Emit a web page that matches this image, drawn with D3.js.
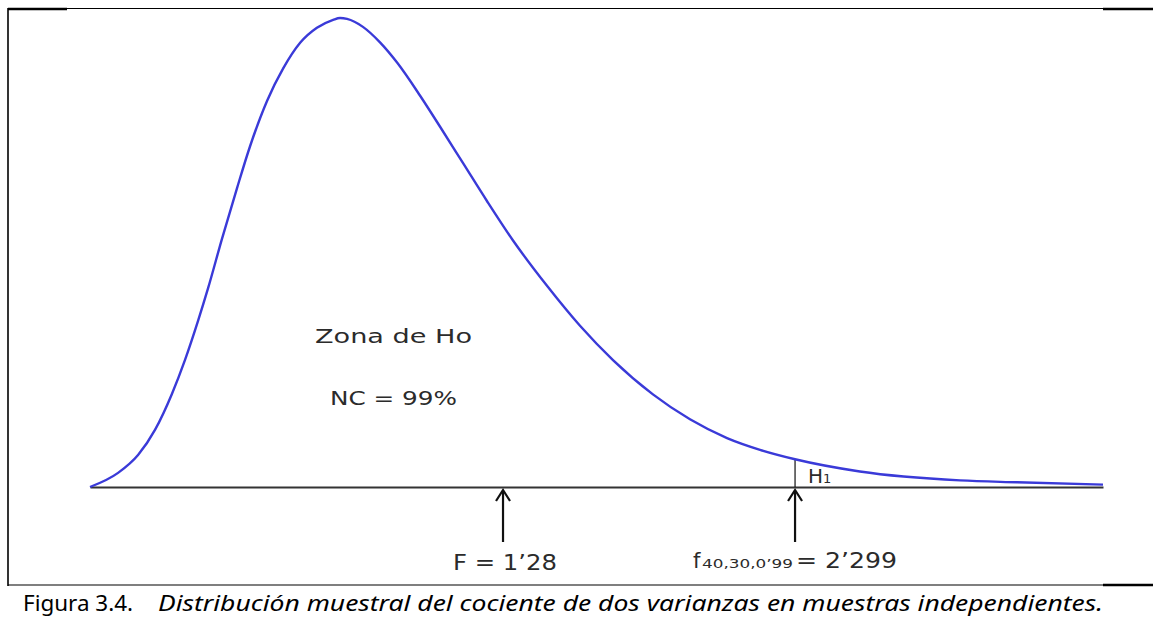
<!DOCTYPE html>
<html>
<head>
<meta charset="utf-8">
<script src="https://cdn.jsdelivr.net/npm/d3@7"></script>
<style>
  body { margin: 0; background: #fff; }
  svg { display: block; }
</style>
</head>
<body>
<div id="chart"></div>
<script>
// curve (x in F-like units, y relative density)
const curveX = [0, 0.097, 0.166, 0.225, 0.283, 0.328, 0.373, 0.408, 0.456, 0.508, 0.553, 0.612, 0.667, 0.726, 0.784, 0.840, 0.864, 0.888, 0.943, 1.002, 1.061, 1.140, 1.209, 1.289, 1.372, 1.461, 1.579, 1.693, 1.807, 1.945, 2.073, 2.201, 2.315, 2.436, 2.660, 3.006, 3.203, 3.5];
const curveY = [0, 0.030, 0.068, 0.122, 0.198, 0.270, 0.353, 0.423, 0.528, 0.636, 0.725, 0.822, 0.890, 0.945, 0.977, 0.994, 0.998, 0.996, 0.979, 0.946, 0.903, 0.833, 0.767, 0.689, 0.608, 0.525, 0.428, 0.343, 0.270, 0.197, 0.144, 0.104, 0.079, 0.059, 0.033, 0.014, 0.010, 0.005];

const arrowX = [1.427, 2.436];
const criticalX = 2.436;
const zoneLabels = ["Zona de Ho", "NC = 99%"];

const width = 1153;
const height = 617;

const svg = d3.select("#chart")
  .append("svg")
  .attr("width", width)
  .attr("height", height);

const x = d3.scaleLinear().domain([0, 3.5]).range([90, 1103]);
const y = d3.scaleLinear().domain([0, 1]).range([487, 17]);

// frame (table cell borders)
const frame = svg.append("g").attr("stroke", "#000");
frame.append("line").attr("x1", 8).attr("x2", 8).attr("y1", 8).attr("y2", 586).attr("stroke-width", 1.6);
frame.append("line").attr("x1", 8).attr("x2", 1153).attr("y1", 8.5).attr("y2", 8.5).attr("stroke-width", 1.2);
frame.append("line").attr("x1", 8).attr("x2", 67).attr("y1", 9).attr("y2", 9).attr("stroke-width", 2.4);
frame.append("line").attr("x1", 1103).attr("x2", 1153).attr("y1", 9).attr("y2", 9).attr("stroke-width", 2.4);
frame.append("line").attr("x1", 8).attr("x2", 1153).attr("y1", 585).attr("y2", 585).attr("stroke-width", 1.2);
frame.append("line").attr("x1", 1103).attr("x2", 1153).attr("y1", 585).attr("y2", 585).attr("stroke-width", 2.4);

// baseline
const axis = svg.append("g")
  .attr("transform", `translate(0,${y(0)})`)
  .call(d3.axisBottom(x).ticks(0).tickSizeOuter(0));
axis.select(".domain").attr("stroke", "#333").attr("stroke-width", 2);

// critical value line
const critY = curveY[curveX.indexOf(criticalX)];
svg.append("line")
  .attr("x1", x(criticalX)).attr("x2", x(criticalX))
  .attr("y1", y(0)).attr("y2", y(critY))
  .attr("stroke", "#111")
  .attr("stroke-width", 1.2);

// density curve
const line = d3.line()
  .x((d, i) => x(curveX[i]))
  .y(d => y(d))
  .curve(d3.curveMonotoneX);

svg.append("path")
  .datum(curveY)
  .attr("d", line)
  .attr("fill", "none")
  .attr("stroke", "#3a3ad8")
  .attr("stroke-width", 2.4);

// arrows
arrowX.forEach(v => {
  const ax = x(v);
  svg.append("line")
    .attr("x1", ax).attr("x2", ax)
    .attr("y1", 491).attr("y2", 542)
    .attr("stroke", "#111")
    .attr("stroke-width", 2.2);
  svg.append("path")
    .attr("d", `M${ax - 7},${501} L${ax},${490} L${ax + 7},${501}`)
    .attr("fill", "none")
    .attr("stroke", "#111")
    .attr("stroke-width", 2.2);
});

const font = "'DejaVu Sans', Verdana, sans-serif";

// zone labels
svg.append("text")
  .attr("x", 315).attr("y", 343)
  .attr("font-family", font).attr("font-size", 20)
  .attr("fill", "#2b2b2b")
  .attr("textLength", 157).attr("lengthAdjust", "spacingAndGlyphs")
  .text(zoneLabels[0]);
svg.append("text")
  .attr("x", 330).attr("y", 405)
  .attr("font-family", font).attr("font-size", 20)
  .attr("fill", "#2b2b2b")
  .attr("textLength", 127).attr("lengthAdjust", "spacingAndGlyphs")
  .text(zoneLabels[1]);

// H1
const h1 = svg.append("text")
  .attr("x", x(criticalX) + 13).attr("y", 483)
  .attr("font-family", font).attr("font-size", 20)
  .attr("fill", "#2b2b2b");
h1.append("tspan").text("H");
h1.append("tspan").attr("font-size", 13).text("1");

// arrow labels
svg.append("text")
  .attr("x", 453).attr("y", 570)
  .attr("font-family", font).attr("font-size", 21)
  .attr("fill", "#2b2b2b")
  .attr("textLength", 104).attr("lengthAdjust", "spacingAndGlyphs")
  .text("F = 1\u201928");

const fl = svg.append("text")
  .attr("y", 568)
  .attr("font-family", font)
  .attr("fill", "#2b2b2b");
fl.append("tspan").attr("x", 693).attr("font-size", 21).text("f");
fl.append("tspan").attr("x", 702).attr("font-size", 13)
  .attr("textLength", 91).attr("lengthAdjust", "spacingAndGlyphs")
  .text("40,30,0\u201999");
fl.append("tspan").attr("x", 796).attr("font-size", 21)
  .attr("textLength", 101).attr("lengthAdjust", "spacingAndGlyphs")
  .text("= 2\u2019299");

// caption
const capFont = "'Noto Sans', 'Open Sans', sans-serif";
const cap = svg.append("text")
  .attr("y", 611)
  .attr("font-family", capFont)
  .attr("font-size", 22)
  .attr("fill", "#000");
cap.append("tspan").attr("x", 23)
  .attr("textLength", 110).attr("lengthAdjust", "spacingAndGlyphs")
  .text("Figura 3.4.");
cap.append("tspan").attr("x", 158).attr("font-style", "italic")
  .attr("textLength", 945).attr("lengthAdjust", "spacingAndGlyphs")
  .text("Distribución muestral del cociente de dos varianzas en muestras independientes.");
</script>
</body>
</html>
